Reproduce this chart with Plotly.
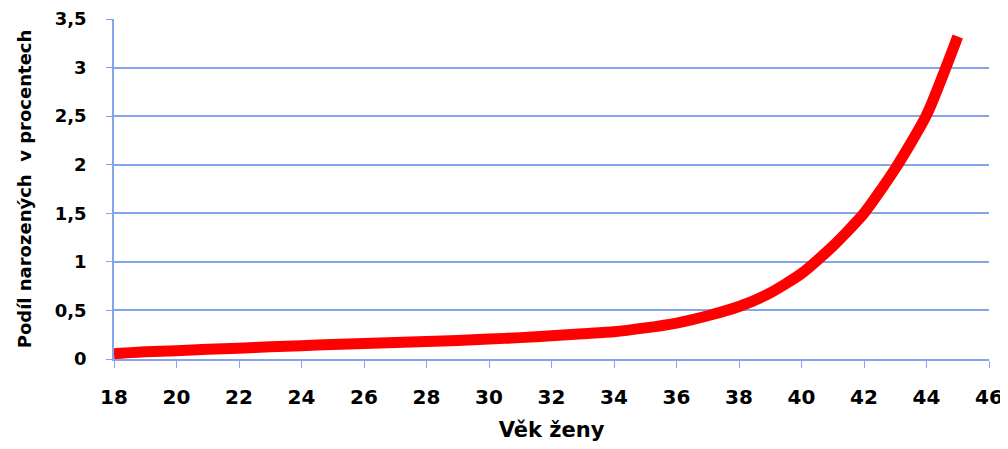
import plotly.graph_objects as go

ages = [18, 19, 20, 21, 22, 23, 24, 25, 26, 27, 28, 29, 30, 31, 32, 33, 34, 35, 36, 37, 38, 39, 40, 41, 42, 43, 44, 45]
share = [0.055, 0.075, 0.085, 0.10, 0.11, 0.125, 0.137, 0.15, 0.16, 0.17, 0.18, 0.19, 0.205, 0.22, 0.24, 0.26, 0.28, 0.32, 0.37, 0.445, 0.54, 0.68, 0.88, 1.16, 1.5, 1.96, 2.51, 3.32]

x_title = "Věk ženy"
y_title = "Podíl narozených  v procentech"

grid_blue = "#86a3ee"
font_family = "'DejaVu Sans', sans-serif"

fig = go.Figure()
fig.add_trace(go.Scatter(
    x=ages, y=share, mode="lines",
    line=dict(color="#ff0000", width=11, shape="spline", smoothing=0.6),
    showlegend=False, hoverinfo="x+y",
))

fig.update_layout(
    width=1008, height=449,
    margin=dict(l=106, r=27, t=11, b=98),
    paper_bgcolor="white", plot_bgcolor="white",
    separators=", ",
    font=dict(family=font_family, size=17, color="black"),
    xaxis=dict(
        range=[18, 46], tick0=18, dtick=2,
        automargin=False,
        showgrid=False, zeroline=False,
        showline=True, linecolor=grid_blue, linewidth=1.5,
        ticks="outside", ticklen=7, tickcolor=grid_blue, tickwidth=1,
        ticklabelstandoff=12,
        tickfont=dict(family=font_family, size=20, color="black", weight="bold"),
        title=dict(text=x_title, font=dict(family=font_family, size=21, color="black", weight="bold"), standoff=15),
    ),
    yaxis=dict(
        range=[0, 3.5001], tick0=0, dtick=0.5,
        automargin=False,
        showgrid=True, gridcolor=grid_blue, gridwidth=1.5,
        zeroline=False,
        showline=True, linecolor=grid_blue, linewidth=1.5,
        ticks="outside", ticklen=6, tickcolor=grid_blue, tickwidth=1,
        ticklabelstandoff=16,
        tickfont=dict(family=font_family, size=18, color="black", weight="bold"),
        title=dict(text=y_title, font=dict(family=font_family, size=18, color="black", weight="bold"), standoff=18),
    ),
)

fig.write_html("out.html")
